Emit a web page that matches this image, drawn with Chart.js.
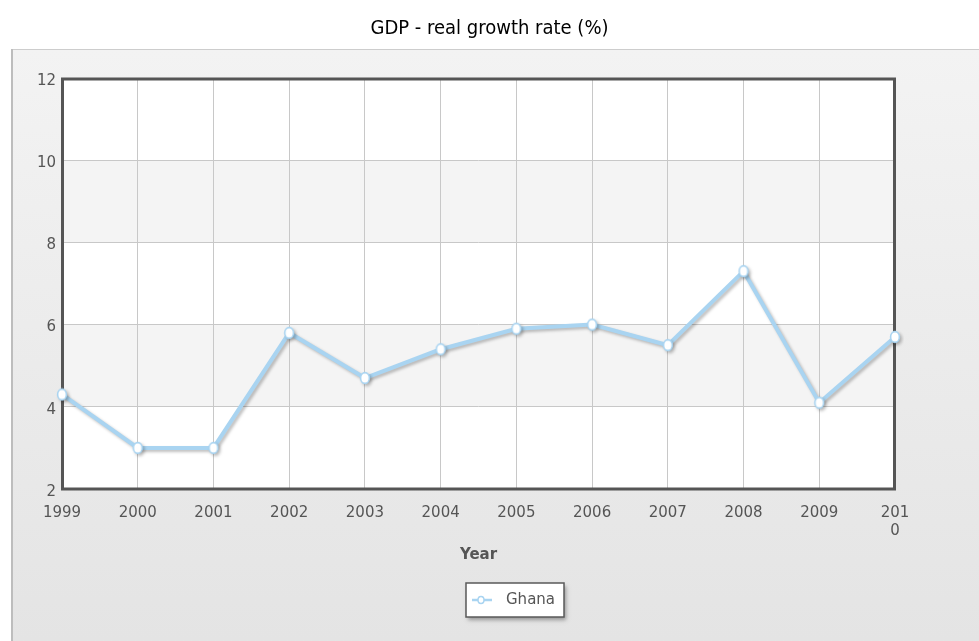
<!DOCTYPE html>
<html lang="en">
<head>
    <meta charset="UTF-8">
    <title>GDP - real growth rate (%)</title>
    <script src="https://cdn.jsdelivr.net/npm/chart.js"></script>
    <style>
        body {
            margin: 0;
            padding: 0;
            background: #ffffff;
        }

        .chart-box {
            width: 979px;
            height: 641px;
        }
    </style>
</head>
<body>
    <div class="chart-box">
        <canvas id="gdpChart" width="979" height="641"></canvas>
    </div>

    <script>
        // Years and growth values (%)
        const years = ["1999", "2000", "2001", "2002", "2003", "2004", "2005", "2006", "2007", "2008", "2009", "2010"];
        const ghanaGrowth = [4.3, 3.0, 3.0, 5.8, 4.7, 5.4, 5.9, 6.0, 5.5, 7.3, 4.1, 5.7];
        // the last year label is wrapped in two lines
        const yearTickLabels = ["1999", "2000", "2001", "2002", "2003", "2004", "2005", "2006", "2007", "2008", "2009", ["201", "0"]];
        const seriesName = "Ghana";

        const lineBlue = "#a9d4f1";
        const textGrey = "#555555";

        Chart.defaults.font.family = "'DejaVu Sans', Verdana, sans-serif";

        // small oval marker used for the points
        function makeMarker() {
            const c = document.createElement("canvas");
            c.width = 12;
            c.height = 14;
            const g = c.getContext("2d");
            g.fillStyle = "#ffffff";
            g.strokeStyle = lineBlue;
            g.lineWidth = 1.6;
            g.beginPath();
            g.ellipse(6, 7, 4.4, 5.4, 0, 0, Math.PI * 2);
            g.fill();
            g.stroke();
            return c;
        }
        const marker = makeMarker();

        // grey panel, striped plot background, frame and legend box
        const decorPlugin = {
            id: "decor",
            beforeDraw(chart) {
                const ctx = chart.ctx;
                const area = chart.chartArea;
                const y = chart.scales.y;

                ctx.save();
                ctx.fillStyle = "#ffffff";
                ctx.fillRect(0, 0, chart.width, chart.height);

                const grad = ctx.createLinearGradient(0, 49, 0, chart.height);
                grad.addColorStop(0, "#f3f3f3");
                grad.addColorStop(1, "#e4e4e4");
                ctx.fillStyle = grad;
                ctx.fillRect(11, 49, chart.width - 11, chart.height - 49);

                ctx.strokeStyle = "#cdcdcd";
                ctx.lineWidth = 1;
                ctx.beginPath();
                ctx.moveTo(11, 49.5);
                ctx.lineTo(chart.width, 49.5);
                ctx.stroke();
                ctx.strokeStyle = "#bdbdbd";
                ctx.lineWidth = 2;
                ctx.beginPath();
                ctx.moveTo(12, 49);
                ctx.lineTo(12, chart.height);
                ctx.stroke();

                // alternating bands between the 2-step gridlines
                for (let v = y.min, k = 0; v < y.max; v += 2, k++) {
                    const top = y.getPixelForValue(v + 2);
                    const bottom = y.getPixelForValue(v);
                    ctx.fillStyle = k % 2 === 1 ? "#f4f4f4" : "#ffffff";
                    ctx.fillRect(area.left, top, area.right - area.left, bottom - top);
                }

                // legend box with a soft shadow
                const bx = 466, by = 583, bw = 98, bh = 34;
                ctx.shadowColor = "rgba(0,0,0,0.35)";
                ctx.shadowBlur = 4;
                ctx.shadowOffsetX = 2;
                ctx.shadowOffsetY = 3;
                ctx.fillStyle = "#ffffff";
                ctx.fillRect(bx, by, bw, bh);
                ctx.shadowColor = "transparent";
                ctx.strokeStyle = "#5a5a5a";
                ctx.lineWidth = 1.5;
                ctx.strokeRect(bx, by, bw, bh);

                const ly = by + bh / 2;
                ctx.strokeStyle = lineBlue;
                ctx.lineWidth = 2.5;
                ctx.beginPath();
                ctx.moveTo(bx + 6, ly);
                ctx.lineTo(bx + 26, ly);
                ctx.stroke();
                ctx.fillStyle = "#ffffff";
                ctx.lineWidth = 1.5;
                ctx.beginPath();
                ctx.ellipse(bx + 15, ly, 3, 3.5, 0, 0, Math.PI * 2);
                ctx.fill();
                ctx.stroke();

                ctx.fillStyle = textGrey;
                ctx.font = "15px 'DejaVu Sans', Verdana, sans-serif";
                ctx.textAlign = "left";
                ctx.textBaseline = "middle";
                ctx.fillText(seriesName, bx + 40, ly);
                ctx.restore();
            },
            beforeDatasetsDraw(chart) {
                const ctx = chart.ctx;
                const a = chart.chartArea;
                ctx.save();
                ctx.strokeStyle = "#555555";
                ctx.lineWidth = 3;
                ctx.strokeRect(a.left + 0.5, a.top + 1, a.right - a.left - 1, a.bottom - a.top - 1);
                ctx.restore();
            },
            beforeDatasetDraw(chart) {
                const ctx = chart.ctx;
                ctx.save();
                ctx.shadowColor = "rgba(0,0,0,0.25)";
                ctx.shadowBlur = 3;
                ctx.shadowOffsetX = 2;
                ctx.shadowOffsetY = 2;
            },
            afterDatasetDraw(chart) {
                chart.ctx.restore();
            }
        };

        const ctx = document.getElementById("gdpChart").getContext("2d");

        new Chart(ctx, {
            type: "line",
            data: {
                labels: years,
                datasets: [{
                    label: seriesName,
                    data: ghanaGrowth,
                    borderColor: lineBlue,
                    borderWidth: 4,
                    tension: 0,
                    fill: false,
                    pointStyle: marker,
                    pointRadius: 5,
                    pointBackgroundColor: "#ffffff",
                    pointBorderColor: lineBlue
                }]
            },
            options: {
                responsive: false,
                animation: false,
                layout: {
                    padding: { left: 0, right: 0, top: 0, bottom: 72 }
                },
                plugins: {
                    legend: { display: false },
                    tooltip: { enabled: false },
                    title: {
                        display: true,
                        text: "GDP - real growth rate (%)",
                        color: "#000000",
                        font: { family: "'DejaVu Sans Condensed', 'Liberation Sans', sans-serif", size: 20, weight: "normal" },
                        padding: { top: 17, bottom: 37 }
                    }
                },
                scales: {
                    x: {
                        type: "category",
                        offset: false,
                        grid: { color: "#c8c8c8", drawTicks: false },
                        border: { display: false },
                        ticks: {
                            color: textGrey,
                            font: { size: 15 },
                            padding: 15,
                            maxRotation: 0,
                            autoSkip: false,
                            callback: (value, index) => yearTickLabels[index]
                        },
                        title: {
                            display: true,
                            text: "Year",
                            color: textGrey,
                            font: { size: 15, weight: "bold" },
                            padding: { top: 4, bottom: 5 }
                        },
                        afterFit(scale) {
                            scale.height = 80;
                        }
                    },
                    y: {
                        min: 2,
                        max: 12,
                        grid: { color: "#c8c8c8", drawTicks: false },
                        border: { display: false },
                        ticks: {
                            stepSize: 2,
                            color: textGrey,
                            font: { size: 15 },
                            padding: 6,
                            labelOffset: 3
                        },
                        afterFit(scale) {
                            scale.width = 62;
                        }
                    },
                    // empty strip on the right of the plot
                    yRight: {
                        position: "right",
                        display: true,
                        grid: { display: false },
                        border: { display: false },
                        ticks: { display: false },
                        afterFit(scale) {
                            scale.width = 84;
                        }
                    }
                }
            },
            plugins: [decorPlugin]
        });
    </script>
</body>
</html>
